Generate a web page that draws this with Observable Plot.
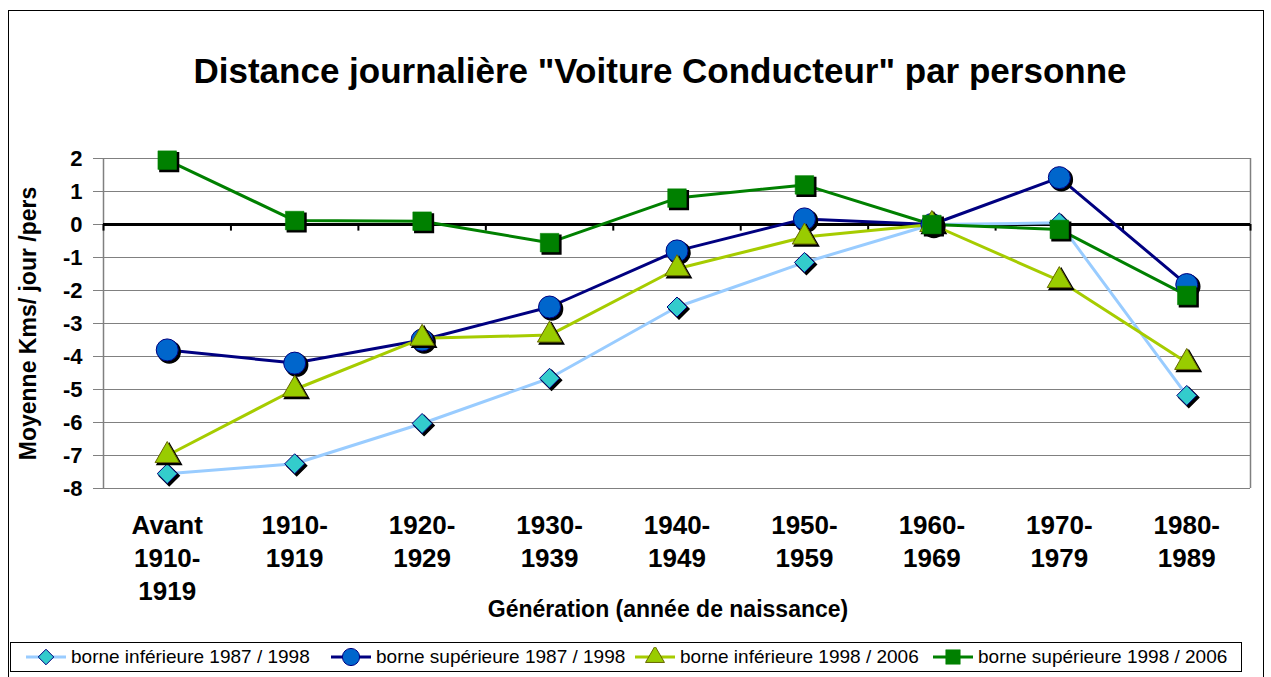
<!DOCTYPE html>
<html><head><meta charset="utf-8">
<script src="https://cdn.jsdelivr.net/npm/d3@7"></script>
<script src="https://cdn.jsdelivr.net/npm/@observablehq/plot@0.6"></script>
<style>
body{margin:0;background:#fff;font-family:"Liberation Sans",Arial,sans-serif;}
#wrap{position:relative;width:1271px;height:677px;overflow:hidden;background:#fff}
#frame{position:absolute;left:8px;top:10px;width:1256px;height:670px;border:1px solid #000;box-sizing:border-box}
#title{position:absolute;left:0;width:1320px;top:53px;text-align:center;font-weight:bold;font-size:35px;line-height:35px;color:#000}
#chart{position:absolute;left:0;top:0}
#xtitle{position:absolute;left:0;width:1336px;top:598px;text-align:center;font-weight:bold;font-size:23px;line-height:23px}
#legend{position:absolute;left:10px;top:642px;width:1232px;height:30px;border:1px solid #000;box-sizing:border-box;font-size:19px;background:#fff}
#legend .sw{position:absolute;top:4px}
#legend .tx{position:absolute;top:0;line-height:28px;white-space:nowrap}
</style></head>
<body>
<div id="wrap">
<div id="frame"></div>
<div id="chart"></div>
<div id="title"></div>
<div id="xtitle"></div>
<div id="legend"></div>
</div>
<script>
const title = 'Distance journalière "Voiture Conducteur" par personne';
const yLabel = "Moyenne Kms/ jour /pers";
const xLabel = "Génération (année de naissance)";
const categories = ["Avant\n1910-\n1919","1910-\n1919","1920-\n1929","1930-\n1939","1940-\n1949","1950-\n1959","1960-\n1969","1970-\n1979","1980-\n1989"];
const yTicks = [2,1,0,-1,-2,-3,-4,-5,-6,-7,-8];
const seriesNames = ["borne inférieure 1987 / 1998","borne supérieure 1987 / 1998","borne inférieure 1998 / 2006","borne supérieure 1998 / 2006"];
const infA = [-7.55,-7.25,-6.03,-4.66,-2.5,-1.15,0,0.05,-5.18];
const supA = [-3.8,-4.2,-3.5,-2.5,-0.8,0.17,0,1.42,-1.82];
const infB = [-7.0,-5.0,-3.45,-3.35,-1.34,-0.38,0,-1.7,-4.18];
const supB = [1.95,0.12,0.1,-0.55,0.8,1.2,0,-0.15,-2.15];

const styles = [
  {line:"#99CCFF", fill:"#33CCCC", stroke:"#000080", symbol:"diamond2", r:9, sw:1},
  {line:"#000080", fill:"#0066CC", stroke:"#000080", symbol:"circle", r:11, sw:1},
  {line:"#A6CC00", fill:"#99CC00", stroke:"#666600", symbol:"triangle", r:9, sw:1},
  {line:"#008000", fill:"#008000", stroke:"#008000", symbol:"square", r:10.5, sw:0.5}
];
const legendLeft = [6, 311, 615, 913];
const seriesValues = [infA, supA, infB, supB];
const rows = seriesValues.map((vals, s) => vals.map((v, i) => ({s, i, v})));
const bounds = d3.range(categories.length + 1).map(i => i - 0.5);

document.getElementById("title").textContent = title;
document.getElementById("xtitle").textContent = xLabel;

const marks = [
  Plot.ruleY(yTicks, {stroke:"#808080", strokeWidth:1.2}),
  Plot.axisY({ticks:yTicks, tickSize:10, tickPadding:11, tickFormat:d => String(d), fontSize:22, fontWeight:"bold", stroke:"#808080", fill:"#000", label:null}),
  Plot.ruleX([bounds[0], bounds[bounds.length-1]], {stroke:"#808080", strokeWidth:1.5}),
  Plot.ruleY([0], {stroke:"#000", strokeWidth:3}),
  Plot.ruleX(bounds, {y1:0, y2:-0.2, stroke:"#000", strokeWidth:2}),
  Plot.text(categories, {x:(d,i) => i, frameAnchor:"bottom", lineAnchor:"top", dy:22, fontSize:26, fontWeight:"bold", lineHeight:1.27, fill:"#000"}),
  Plot.text([yLabel], {frameAnchor:"left", textAnchor:"middle", rotate:-90, dx:-75, fontSize:23, fontWeight:"bold", fill:"#000"})
];
rows.forEach((data, s) => {
  const st = styles[s];
  marks.push(Plot.line(data, {x:"i", y:"v", stroke:st.line, strokeWidth:3}));
});
rows.forEach((data, s) => {
  const st = styles[s];
  marks.push(Plot.dot(data, {x:"i", y:"v", symbol:st.symbol, r:st.r, fill:"#000", stroke:"#000", dx:2, dy:2}));
  marks.push(Plot.dot(data, {x:"i", y:"v", symbol:st.symbol, r:st.r, fill:st.fill, stroke:st.stroke, strokeWidth:st.sw}));
});

const chart = Plot.plot({
  width:1271, height:677,
  marginTop:158, marginBottom:189, marginLeft:103, marginRight:21,
  style:{background:"transparent", fontFamily:"Liberation Sans, Arial, sans-serif", overflow:"visible"},
  x:{type:"linear", domain:[bounds[0], bounds[bounds.length-1]], axis:null},
  y:{domain:[-8,2], axis:null},
  marks
});
document.getElementById("chart").appendChild(chart);

const legend = document.getElementById("legend");
const symMap = {diamond2:d3.symbolDiamond2, circle:d3.symbolCircle, triangle:d3.symbolTriangle, square:d3.symbolSquare};
seriesNames.forEach((name, s) => {
  const st = styles[s];
  const svg = d3.create("svg").attr("class", "sw").attr("width", 50).attr("height", 20).style("left", legendLeft[s] + "px");
  svg.append("line").attr("x1", 9).attr("x2", 49).attr("y1", 10).attr("y2", 10).attr("stroke", st.line).attr("stroke-width", 3);
  const rr = st.r * 0.78;
  svg.append("path").attr("transform", "translate(29,10)").attr("d", d3.symbol(symMap[st.symbol], rr*rr*Math.PI)()).attr("fill", st.fill).attr("stroke", st.stroke).attr("stroke-width", st.sw);
  legend.appendChild(svg.node());
  const t = document.createElement("span");
  t.className = "tx";
  t.style.left = (legendLeft[s] + 54) + "px";
  t.textContent = name;
  legend.appendChild(t);
});
</script>
</body></html>
